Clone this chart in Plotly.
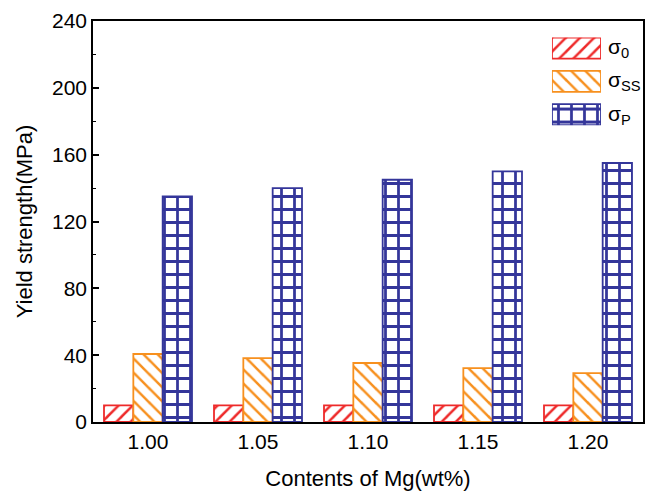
import plotly.graph_objects as go

categories = ["1.00", "1.05", "1.10", "1.15", "1.20"]
sigma0 = [10, 10, 10, 10, 10]
sigma_ss = [40.7, 38.2, 35.3, 32.3, 29.3]
sigma_p = [135, 140, 145, 150, 155]

series_names = ["σ<sub>0</sub>", "σ<sub>SS</sub>", "σ<sub>P</sub>"]
colors = ["#EE2A2A", "#F7901E", "#34369A"]
shapes = ["/", "\\", "+"]
sizes = [10, 10, 13]
solid = [0.25, 0.25, 0.38]

FONT = "Liberation Sans, Arial, sans-serif"


def bar_marker(c, sh, sz, so):
    return dict(color="white", line=dict(color=c, width=1.8),
                pattern=dict(shape=sh, fgcolor=c, bgcolor="white", size=sz, solidity=so,
                             fillmode="overlay", fgopacity=1))


fig = go.Figure()
for vals, name, c, sh, sz, so in zip([sigma0, sigma_ss, sigma_p], series_names, colors, shapes, sizes, solid):
    fig.add_trace(go.Bar(
        x=categories, y=vals, name=name, showlegend=False,
        marker=bar_marker(c, sh, sz, so),
        xaxis="x", yaxis="y",
    ))

# inset legend drawn as small bars on an auxiliary axis
leg_x0, leg_x1 = 0.8345, 0.9236
leg_y0, leg_y1 = 0.7403, 0.9587
for i, (name, c, sh, sz, so) in enumerate(zip(series_names, colors, shapes, sizes, solid)):
    fig.add_trace(go.Bar(
        x=[1], y=[i], orientation="h", width=0.63, showlegend=False, hoverinfo="skip",
        marker=bar_marker(c, sh, sz, so),
        xaxis="x2", yaxis="y2",
    ))
    ypos = leg_y1 - (leg_y1 - leg_y0) * (i + 0.315) / 2.63
    fig.add_annotation(x=leg_x1 + 0.01, y=ypos, xref="paper", yref="paper", text=name,
                       showarrow=False, xanchor="left", yanchor="middle",
                       font=dict(family=FONT, size=21, color="black"))

fig.update_layout(
    width=652, height=493,
    margin=dict(l=93, r=9, t=21, b=71),
    paper_bgcolor="white", plot_bgcolor="white",
    barmode="group", bargap=0.2, bargroupgap=0,
    font=dict(family=FONT, color="black"),
    xaxis=dict(
        domain=[0, 1], showline=True, linecolor="black", linewidth=1.5, mirror=True,
        ticks="", showgrid=False, tickfont=dict(size=21), automargin=False,
        title=dict(text="Contents of Mg(wt%)", font=dict(size=22), standoff=19),
    ),
    yaxis=dict(
        range=[0, 240], tickvals=[0, 40, 80, 120, 160, 200, 240],
        showline=True, linecolor="black", linewidth=1.5, mirror=True,
        ticks="inside", ticklen=6, tickwidth=1.5, tickcolor="black",
        minor=dict(ticks="inside", ticklen=3.5, tickwidth=1.2, tickcolor="black", dtick=20),
        showgrid=False, zeroline=False, tickfont=dict(size=21), automargin=False,
        title=dict(text="Yield strength(MPa)", font=dict(size=22), standoff=13),
    ),
    xaxis2=dict(domain=[leg_x0, leg_x1], range=[0, 1], anchor="y2", visible=False, fixedrange=True),
    yaxis2=dict(domain=[leg_y0, leg_y1], range=[2.315, -0.315], anchor="x2", visible=False, fixedrange=True),
)

fig.write_html("out.html")
